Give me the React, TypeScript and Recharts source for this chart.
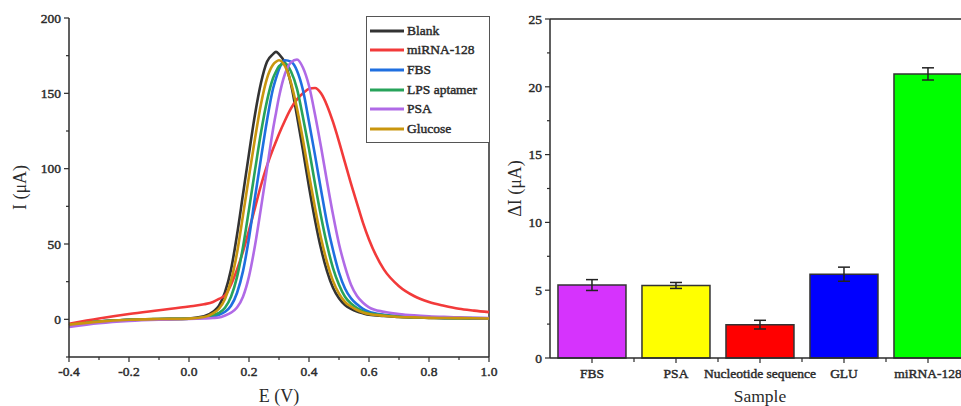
import React from 'react';
import { LineChart, Line, XAxis, YAxis, ReferenceLine, BarChart, Bar, Cell, ErrorBar } from 'recharts';

const FONT = '"Liberation Serif", "Times New Roman", serif';
const INK = '#2b2b2b';

// DPV curves, potential in V
const potentials = [-0.4, -0.3, -0.2, -0.1, 0, 0.05, 0.08, 0.1, 0.12, 0.14, 0.16, 0.18, 0.2, 0.22, 0.24, 0.26, 0.28, 0.29, 0.3, 0.32, 0.34, 0.36, 0.38, 0.4, 0.42, 0.44, 0.46, 0.48, 0.5, 0.52, 0.54, 0.56, 0.58, 0.6, 0.65, 0.7, 0.75, 0.8, 0.85, 0.9, 0.95, 1.0];
const blank = [-4, -1.5, -0.3, 0.2, 0.6, 2, 5, 9, 18, 33, 56, 83, 110, 136, 157, 171, 176, 177.5, 176, 170, 156, 135, 112, 88, 66, 47, 32, 21, 14, 9.5, 7, 5.2, 4, 3, 2.2, 1.5, 1.2, 1, 0.8, 0.7, 0.6, 0.5];
const mirna128 = [-3, 0.5, 3.5, 6, 8.5, 10, 11.5, 13.5, 16, 23, 33, 45, 59, 74, 89, 102, 113, 118, 123, 132, 140, 146, 150, 153, 153.5, 150, 142, 131, 118, 104, 90, 77, 64, 53, 33, 22, 15.5, 11.5, 9, 7, 5.8, 4.8];
const fbs = [-4, -1.5, -0.3, 0.1, 0.4, 1, 2, 3, 5, 9, 17.5, 32, 54, 81, 107, 132, 153, 160, 166, 172, 171, 165, 152, 131, 109, 86, 64, 46, 31, 20.5, 14, 10, 7, 5, 3, 2, 1.5, 1.2, 1, 0.9, 0.8, 0.7];
const lpsAptamer = [-4, -1.5, -0.3, 0.2, 0.5, 1.2, 2.8, 4.3, 7.7, 15, 28, 48, 73, 99, 124, 145, 160, 164.5, 168, 170, 164.5, 153, 134, 113, 90, 68.5, 49.5, 34, 23, 15, 10.5, 7.5, 5.3, 4, 2.7, 1.8, 1.4, 1.1, 0.9, 0.8, 0.7, 0.6];
const psa = [-5, -2.5, -1, -0.2, 0.2, 0.6, 0.9, 1.2, 2.5, 4.4, 7.8, 15, 28.5, 49, 74, 100, 126, 137, 147.5, 163, 170.5, 172.5, 167, 155, 136, 114.5, 91.5, 69.5, 50, 35, 23, 15.5, 11, 8, 5, 3.5, 2.6, 2, 1.6, 1.3, 1, 0.8];
const glucose = [-3.5, -1.5, -0.3, 0.2, 0.5, 1.5, 4, 7, 13.5, 25.5, 44, 69, 95, 120, 143, 160, 169, 171, 172, 168, 157, 140, 119, 96, 74, 54, 38, 25.5, 17, 11.5, 8.5, 6.2, 4.6, 3.5, 2.4, 1.6, 1.3, 1, 0.9, 0.8, 0.7, 0.6];

const curveTicksX = [-0.4, -0.3, -0.2, -0.1, 0, 0.1, 0.2, 0.3, 0.4, 0.5, 0.6, 0.7, 0.8, 0.9, 1.0];
const curveTicksY = [-25, 0, 25, 50, 75, 100, 125, 150, 175, 200];

// selectivity bars
const samples = ['FBS', 'PSA', 'Nucleotide sequence', 'GLU', 'miRNA-128'];
const deltaI = [5.38, 5.35, 2.46, 6.18, 20.95];
const deltaErr = [0.4, 0.22, 0.32, 0.52, 0.45];
const barTicksY = [0, 2.5, 5, 7.5, 10, 12.5, 15, 17.5, 20, 22.5, 25];

const barColors = ['#d633fd', '#ffff00', '#ff0000', '#0000ff', '#00ff00'];

const series = [
  { key: 'blank', name: 'Blank', values: blank, color: '#333333' },
  { key: 'mirna', name: 'miRNA-128', values: mirna128, color: '#f23a3a' },
  { key: 'fbs', name: 'FBS', values: fbs, color: '#1f6fe0' },
  { key: 'lps', name: 'LPS aptamer', values: lpsAptamer, color: '#27a35a' },
  { key: 'psa', name: 'PSA', values: psa, color: '#b06ae6' },
  { key: 'glucose', name: 'Glucose', values: glucose, color: '#c9960e' },
];

const curveRows = potentials.map((e, i) => {
  const row: Record<string, number> = { E: e };
  series.forEach((s) => (row[s.key] = s.values[i]));
  return row;
});

const barRows = samples.map((s, i) => ({ name: s, value: deltaI[i], err: deltaErr[i] }));

// slightly heavy serif, like the scanned figure
const tickText = { fontFamily: FONT, fontSize: 13.5, fill: INK, stroke: INK, strokeWidth: 0.45 };

const XTickMinor = (props: any) => {
  const { x, y, payload } = props;
  const v = payload.value;
  const major = Math.abs(Math.round(v * 10)) % 2 === 0;
  const len = major ? 5 : 3;
  return (
    <g>
      <line x1={x} y1={y} x2={x} y2={y + len} stroke={INK} strokeWidth={1.2} />
      {major && (
        <text x={x} y={y + 9} dy="0.71em" textAnchor="middle" style={tickText}>
          {v.toFixed(1)}
        </text>
      )}
    </g>
  );
};

const makeYTick = (step: number) => (props: any) => {
  const { x, y, payload } = props;
  const v = payload.value;
  const major = Math.abs(v % step) < 1e-9;
  const len = major ? 5 : 3;
  return (
    <g>
      <line x1={x} y1={y} x2={x - len} y2={y} stroke={INK} strokeWidth={1.2} />
      {major && (
        <text x={x - 8} y={y} dy="0.35em" textAnchor="end" style={tickText}>
          {v}
        </text>
      )}
    </g>
  );
};

const HALF_BAND = 42;
const CategoryTick = (props: any) => {
  const { x, y, payload } = props;
  return (
    <g>
      <line x1={x} y1={y} x2={x} y2={y + 5} stroke={INK} strokeWidth={1.2} />
      <line x1={x + HALF_BAND} y1={y} x2={x + HALF_BAND} y2={y + 4} stroke={INK} strokeWidth={1.2} />
      <text x={x} y={y + 10} dy="0.71em" textAnchor="middle" style={tickText}>
        {payload.value}
      </text>
    </g>
  );
};

const titleStyle = { fontFamily: FONT, fontSize: 18, fill: INK };

export default function App() {
  return (
    <div
      style={{
        position: 'fixed',
        left: 0,
        top: 0,
        width: 961,
        height: 406,
        overflow: 'hidden',
        background: '#fff',
        fontFamily: FONT,
      }}
    >
      <div style={{ position: 'absolute', left: 0, top: 0 }}>
        <LineChart width={500} height={406} data={curveRows} margin={{ top: 18, right: 11, bottom: 0, left: 0 }}>
          <XAxis
            dataKey="E"
            type="number"
            domain={[-0.4, 1.0]}
            ticks={curveTicksX}
            interval={0}
            height={49}
            tickSize={0}
            tickMargin={0}
            tickLine={false}
            tick={<XTickMinor />}
            axisLine={{ stroke: INK, strokeWidth: 1.5 }}
            label={{ value: 'E (V)', position: 'insideBottom', offset: 4, style: titleStyle }}
          />
          <YAxis
            type="number"
            domain={[-25, 200]}
            ticks={curveTicksY}
            interval={0}
            width={69}
            tickSize={0}
            tickMargin={0}
            tickLine={false}
            tick={makeYTick(50)}
            axisLine={{ stroke: INK, strokeWidth: 1.5 }}
            label={{ value: 'I (μA)', angle: -90, position: 'insideLeft', offset: 20, style: { ...titleStyle, textAnchor: 'middle' } }}
          />
          <ReferenceLine x={1.0} stroke={INK} strokeWidth={1.5} />
          {series.map((s) => (
            <Line
              key={s.key}
              dataKey={s.key}
              name={s.name}
              type="monotone"
              stroke={s.color}
              strokeWidth={2.6}
              dot={false}
              isAnimationActive={false}
            />
          ))}
        </LineChart>
      </div>

      <div
        style={{
          position: 'absolute',
          left: 366,
          top: 16,
          width: 122,
          border: '1px solid #555',
          background: '#fff',
          padding: '4px 0 3px 0',
        }}
      >
        {series.map((s) => (
          <div key={s.key} style={{ display: 'flex', alignItems: 'center', height: 19.6 }}>
            <svg width={40} height={10} style={{ flex: 'none' }}>
              <line x1={3} y1={5} x2={37} y2={5} stroke={s.color} strokeWidth={3} />
            </svg>
            <span style={{ fontSize: 13.5, color: INK, whiteSpace: 'nowrap', WebkitTextStroke: '0.45px #2b2b2b' }}>{s.name}</span>
          </div>
        ))}
      </div>

      <div style={{ position: 'absolute', left: 500, top: 0 }}>
        <BarChart
          width={480}
          height={406}
          data={barRows}
          margin={{ top: 19, right: 10, bottom: 0, left: 0 }}
          barCategoryGap="9.5%"
        >
          <XAxis
            dataKey="name"
            type="category"
            interval={0}
            height={48}
            tickSize={0}
            tickMargin={0}
            tickLine={false}
            tick={<CategoryTick />}
            axisLine={{ stroke: INK, strokeWidth: 1.5 }}
            label={{ value: 'Sample', position: 'insideBottom', offset: 4, style: { ...titleStyle, fontSize: 17.5 } }}
          />
          <YAxis
            type="number"
            domain={[0, 25]}
            ticks={barTicksY}
            interval={0}
            width={50}
            tickSize={0}
            tickMargin={0}
            tickLine={false}
            tick={makeYTick(5)}
            axisLine={{ stroke: INK, strokeWidth: 1.5 }}
            label={{ value: 'ΔI (μA)', angle: -90, position: 'insideLeft', offset: 15, style: { ...titleStyle, textAnchor: 'middle' } }}
          />
          <ReferenceLine y={25} stroke={INK} strokeWidth={1.5} />
          <Bar dataKey="value" stroke="#333" strokeWidth={1.5} isAnimationActive={false}>
            {barRows.map((r, i) => (
              <Cell key={r.name} fill={barColors[i]} />
            ))}
            <ErrorBar dataKey="err" width={6} stroke="#222" strokeWidth={1.5} isAnimationActive={false} />
          </Bar>
        </BarChart>
      </div>
    </div>
  );
}
